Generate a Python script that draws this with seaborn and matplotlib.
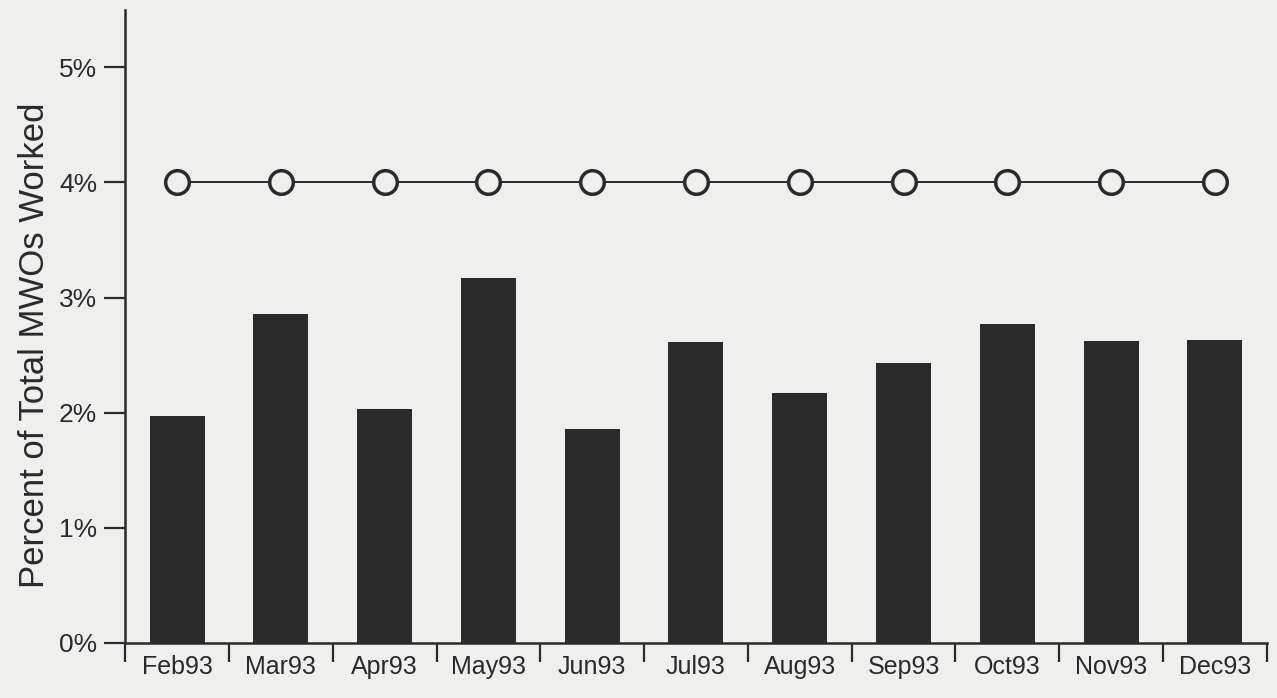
import numpy as np
import pandas as pd
import matplotlib
matplotlib.use("Agg")
import matplotlib.pyplot as plt
import seaborn as sns
from matplotlib.ticker import FixedLocator, FuncFormatter

months = ['Feb93', 'Mar93', 'Apr93', 'May93', 'Jun93', 'Jul93',
          'Aug93', 'Sep93', 'Oct93', 'Nov93', 'Dec93']
pct_worked = [1.97, 2.86, 2.03, 3.17, 1.86, 2.61, 2.17, 2.43, 2.77, 2.62, 2.63]
goal_pct = [4.0] * len(months)
y_ticks = [0, 1, 2, 3, 4, 5]

sns.set_style("white")
plt.rcParams['font.family'] = ['Liberation Sans', 'DejaVu Sans']

bg = '#efefed'
ink = '#2a2a2a'

df = pd.DataFrame({'month': months, 'pct': pct_worked, 'goal': goal_pct})

fig = plt.figure(figsize=(12.77, 6.98), dpi=100, facecolor=bg)
ax = fig.add_axes([0.098, 0.079, 0.894, 0.907])
ax.set_facecolor(bg)

sns.barplot(data=df, x='month', y='pct', order=months, color=ink,
            saturation=1, width=0.53, edgecolor=ink, linewidth=0, ax=ax)
sns.pointplot(data=df, x='month', y='goal', order=months, color=ink,
              markers='o', linewidth=1.4, markersize=17,
              markerfacecolor=bg, markeredgecolor=ink, markeredgewidth=2.5,
              ax=ax, zorder=5)

ax.set_xlim(-0.5, len(months) - 0.5)
ax.set_ylim(0, 5.5)
ax.set_yticks(y_ticks)
ax.yaxis.set_major_formatter(FuncFormatter(lambda v, p: f'{int(v)}%'))

# month labels at the bar centres, tick marks at the category boundaries
ax.set_xticks(range(len(months)))
ax.set_xticklabels(months)
ax.xaxis.set_minor_locator(FixedLocator(np.arange(-0.5, len(months), 1.0)))
ax.tick_params(axis='x', which='major', bottom=True, length=0, pad=9,
               labelsize=18, colors=ink)
ax.tick_params(axis='x', which='minor', bottom=True, length=14, width=1.6,
               color=ink, direction='out')
ax.tick_params(axis='y', left=True, length=15, width=1.6, color=ink, pad=5,
               labelsize=19, labelcolor=ink)

ax.set_xlabel('')
ax.set_ylabel('Percent of Total MWOs Worked', fontsize=25, color=ink)
ax.yaxis.set_label_coords(-0.065, 0.47)

sns.despine(ax=ax)
for s in ['left', 'bottom']:
    ax.spines[s].set_color(ink)
    ax.spines[s].set_linewidth(1.8)

fig.savefig('out.png', dpi=100, facecolor=bg)
